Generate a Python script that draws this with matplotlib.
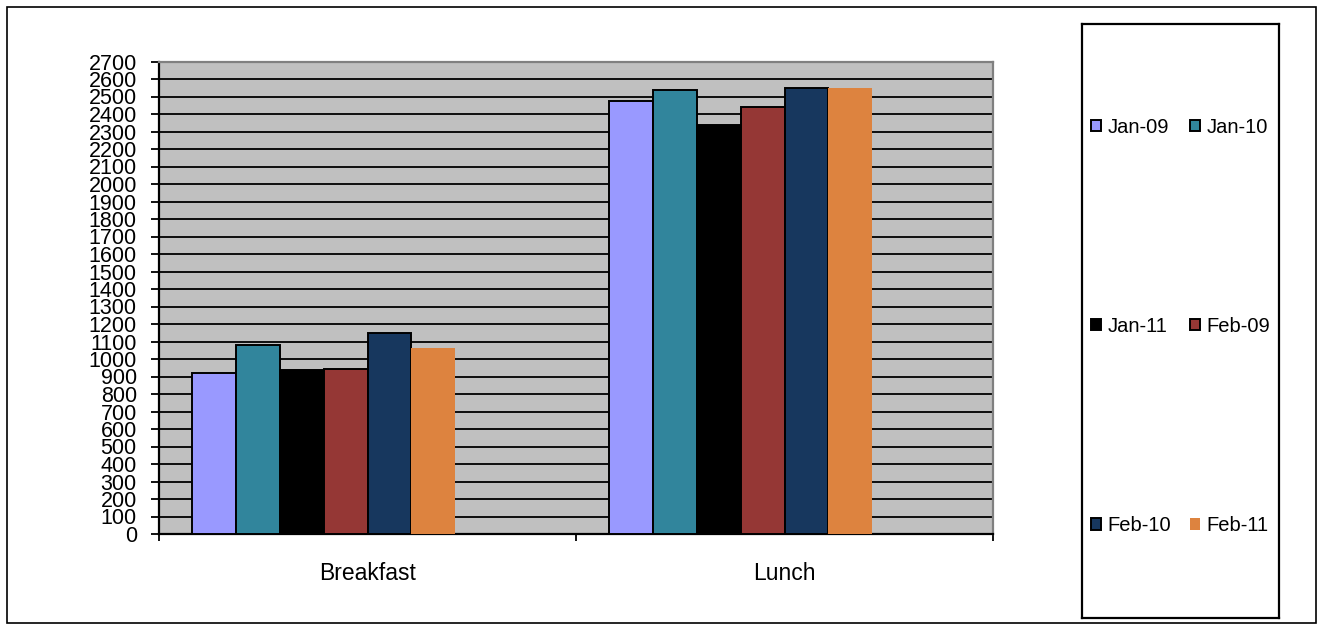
import numpy as np
import matplotlib.pyplot as plt
from matplotlib.patches import Patch, Rectangle

plt.rcParams['font.family'] = ['Liberation Sans', 'DejaVu Sans']

# data
meals = ["Breakfast", "Lunch"]
series = ["Jan-09", "Jan-10", "Jan-11", "Feb-09", "Feb-10", "Feb-11"]
jan09 = [921, 2473]
jan10 = [1081, 2540]
jan11 = [936, 2338]
feb09 = [944, 2439]
feb10 = [1149, 2546]
feb11 = [1062, 2546]
values = [jan09, jan10, jan11, feb09, feb10, feb11]

colors = ["#9999FF", "#31859C", "#000000", "#953735", "#17375E", "#DD833F"]
edges = ["black", "black", "black", "black", "black", "none"]

W, H = 1319, 630
fig = plt.figure(figsize=(W / 100, H / 100), dpi=100)

# outer chart border
fig.patches.append(Rectangle((7 / W, 7 / H), (1316 - 7) / W, (623 - 7) / H,
                             transform=fig.transFigure, fill=False,
                             edgecolor="black", linewidth=1.2))

ax = fig.add_axes([159 / W, (H - 534) / H, (993 - 159) / W, (534 - 61.5) / H])
ax.set_facecolor("#C0C0C0")

# excel style clustering: 8 slots per category, gap width 150%
n_slots = 8
bw = 1 / (n_slots + 1.5)
x = np.arange(len(meals))
for i, (name, vals) in enumerate(zip(series, values)):
    pos = x - 0.5 + 0.75 * bw + bw * (i + 0.5)
    ax.bar(pos, vals, width=bw, color=colors[i], edgecolor=edges[i],
           linewidth=1.4, zorder=3, label=name)

ax.set_xlim(-0.5, len(meals) - 0.5)
ax.set_ylim(0, 2700)
ax.set_yticks(np.arange(0, 2701, 100))
ax.yaxis.grid(True, color="black", linewidth=1.3, zorder=1)
ax.set_axisbelow(True)
ax.tick_params(axis="y", direction="out", length=6, width=1.3, pad=10,
               labelsize=15.5)

ax.set_xticks(x)
ax.set_xticklabels(meals)
ax.set_xticks(np.arange(-0.5, len(meals), 1.0), minor=True)
ax.tick_params(axis="x", which="major", length=0, pad=20, labelsize=16.5)
ax.tick_params(axis="x", which="minor", direction="out", length=5, width=1.3)

for s in ["left", "bottom"]:
    ax.spines[s].set_color("black")
    ax.spines[s].set_linewidth(1.6)
for s in ["top", "right"]:
    ax.spines[s].set_color("#808080")
    ax.spines[s].set_linewidth(1.6)

# legend in its own box, row-major order like excel
lax = fig.add_axes([1082 / W, (H - 618) / H, (1279 - 1082) / W, (618 - 24) / H])
lax.set_xticks([])
lax.set_yticks([])
for s in lax.spines.values():
    s.set_linewidth(1.6)
handles = [Patch(facecolor=colors[i], edgecolor=edges[i], linewidth=1.4)
           for i in range(len(series))]
order = [0, 2, 4, 1, 3, 5]
lax.legend([handles[i] for i in order], [series[i] for i in order],
           ncol=2, loc="center", bbox_to_anchor=(0.5, 0.491), frameon=False,
           fontsize=14.5, handlelength=0.5, handleheight=0.5,
           handletextpad=0.35, columnspacing=0.9, labelspacing=8.95)

fig.savefig("out.png", dpi=100)
